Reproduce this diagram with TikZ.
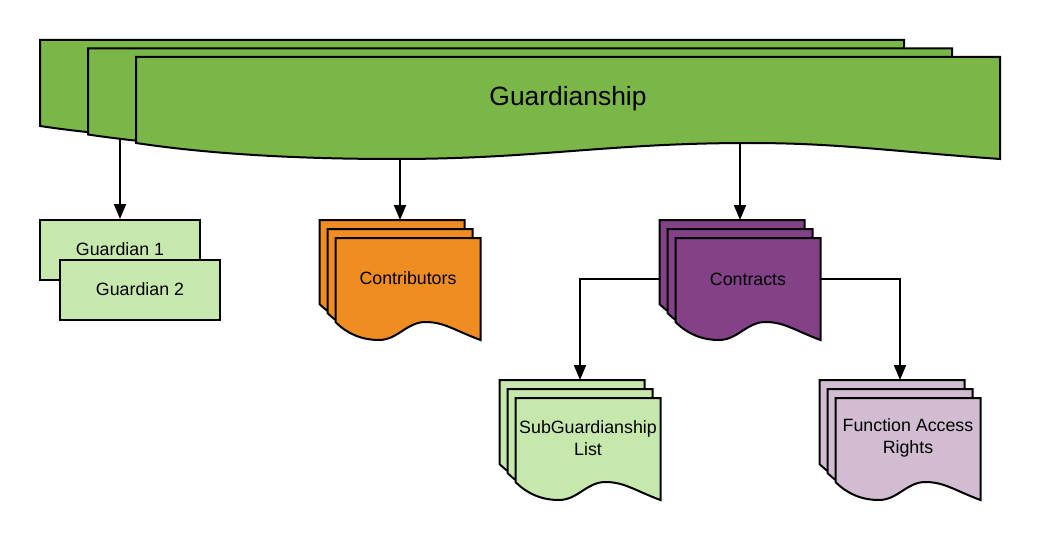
\documentclass[tikz,border=0pt]{standalone}
\usepackage{fontspec}
\setmainfont{Liberation Sans}
\usetikzlibrary{arrows.meta}
\pgfdeclarelayer{bg}
\pgfdeclarelayer{paper}
\pgfsetlayers{paper,bg,main}
\definecolor{gdark}{HTML}{7AB648}
\definecolor{glight}{HTML}{C7E8AC}
\definecolor{corange}{HTML}{EF8D22}
\definecolor{cpurple}{HTML}{834187}
\definecolor{cplight}{HTML}{D1BCD2}
% #1 fill, #2 x, #3 y, #4 w, #5 h, #6 wave depth, #7 peak fraction
\newcommand\wavedoc[7]{%
  \path[draw=black,line width=2pt,line join=miter,fill=#1]
    (#2,#3) -- ({#2+#4},#3) -- ({#2+#4},{#3+#5})
    .. controls ({#2+(1-0.45*(1-#7))*#4},{#3+#5-0.5*#6}) and ({#2+(#7+0.35*(1-#7))*#4},{#3+#5-#6}) .. ({#2+#7*#4},{#3+#5-#6})
    .. controls ({#2+(#7-0.4*(#7-0.3))*#4},{#3+#5-#6}) and ({#2+(0.3+0.4*(#7-0.3))*#4},{#3+#5}) .. ({#2+0.3*#4},{#3+#5})
    .. controls ({#2+0.18*#4},{#3+#5}) and ({#2+0.08*#4},{#3+#5-0.35*#6}) .. (#2,{#3+#5-#6}) -- cycle;%
}
\tikzset{
  arr/.style={line width=2pt,-{Triangle[length=15pt,width=12pt]}},
  gbox/.style={draw=black,line width=2pt,fill=glight,minimum width=160,minimum height=60,inner sep=0pt,font=\fontsize{17.8}{22}\selectfont},
  lbl/.style={inner sep=0pt,align=center,minimum width=145,minimum height=82,font=\fontsize{17.8}{22}\selectfont},
  biglbl/.style={inner sep=0pt,minimum width=864,minimum height=86,font=\fontsize{26.4}{30}\selectfont}
}
\begin{document}
\begin{tikzpicture}[x=1pt,y=-1pt]
\begin{pgfonlayer}{paper}
\fill[white] (0,0) rectangle (1040,540);
\end{pgfonlayer}
\useasboundingbox (0,0) rectangle (1040,540);
% Guardianship stack
\wavedoc{gdark}{40}{40}{864}{102}{16}{0.71}
\wavedoc{gdark}{88}{48.5}{864}{102}{16}{0.71}
\wavedoc{gdark}{136}{57}{864}{102}{16}{0.71}
\node[biglbl] (gs) at (568,99) {Guardianship};
% Guardians
\node[gbox] (g1) at (120,250) {\raisebox{1.5pt}{Guardian 1}};
\node[gbox] (g2) at (140,290) {\raisebox{1pt}{Guardian 2}};
% Contributors
\wavedoc{corange}{319.5}{220}{145}{102}{18}{0.62}
\wavedoc{corange}{327.5}{229}{145}{102}{18}{0.62}
\wavedoc{corange}{335.5}{238}{145}{102}{18}{0.62}
\node[lbl] (contrib) at (408,278) {Contributors};
\coordinate (contribTop) at (400,220);
% Contracts
\wavedoc{cpurple}{659.5}{220}{145}{102}{18}{0.62}
\wavedoc{cpurple}{667.5}{229}{145}{102}{18}{0.62}
\wavedoc{cpurple}{675.5}{238}{145}{102}{18}{0.62}
\node[lbl] (contracts) at (748,279) {Contracts};
\coordinate (contractsTop) at (740,220);
% SubGuardianship List
\wavedoc{glight}{499.5}{380}{145}{102}{18}{0.62}
\wavedoc{glight}{507.5}{389}{145}{102}{18}{0.62}
\wavedoc{glight}{515.5}{398}{145}{102}{18}{0.62}
\node[lbl] (subg) at (588,438) {SubGuardianship\\List};
\coordinate (subgTop) at (580,380);
% Function Access Rights
\wavedoc{cplight}{819.5}{380}{145}{102}{18}{0.62}
\wavedoc{cplight}{827.5}{389}{145}{102}{18}{0.62}
\wavedoc{cplight}{835.5}{398}{145}{102}{18}{0.62}
\node[lbl] (far) at (908,438) {Function Access\\Rights};
\coordinate (farTop) at (900,380);
% connectors
\begin{pgfonlayer}{bg}
\draw[arr] (g1.north |- gs.center) -- (g1.north);
\draw[arr] (contribTop |- gs.center) -- (contribTop);
\draw[arr] (contractsTop |- gs.center) -- (contractsTop);
\draw[arr] (contracts.west) -| (subgTop);
\draw[arr] (contracts.east) -| (farTop);
\end{pgfonlayer}
\end{tikzpicture}
\end{document}
